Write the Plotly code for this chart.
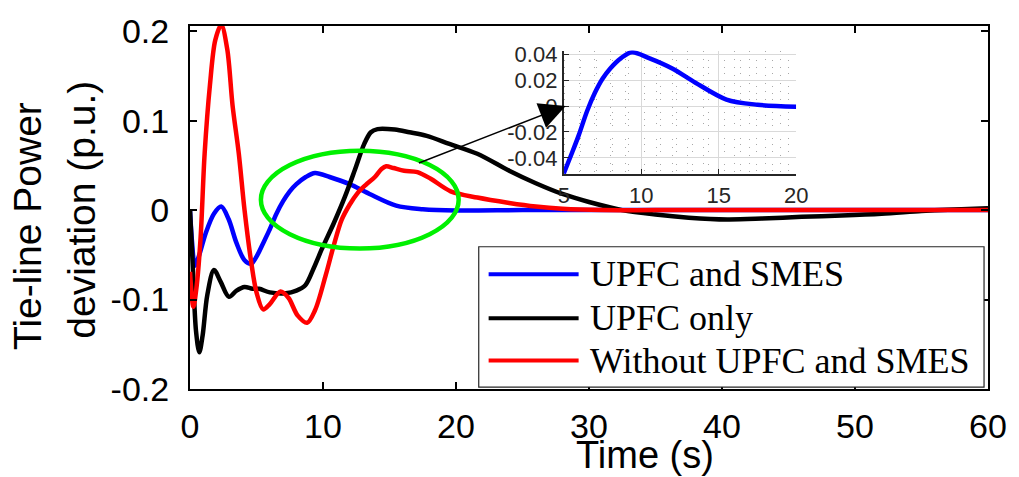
import plotly.graph_objects as go

# ---------------- data ----------------
t_blue = [0, 0.15, 0.37, 0.7, 1.2, 1.8, 2.35, 2.9, 3.5, 4.1, 4.6, 5.0, 5.5, 5.95, 6.5, 7.0, 7.5,
          8.0, 8.7, 9.4, 10.5, 12.0, 13.5, 15.5, 17.5, 20, 25, 30, 40, 50, 60]
v_blue = [0, -0.035, -0.062, -0.05, -0.025, -0.004, 0.004, -0.01, -0.037, -0.056, -0.060, -0.052,
          -0.037, -0.023, -0.004, 0.010, 0.021, 0.029, 0.037, 0.0415, 0.037, 0.029, 0.018, 0.005,
          0.001, -0.0005, 0, 0, 0, 0, 0]

t_black = [0, 0.2, 0.45, 0.7, 0.95, 1.3, 1.8, 2.3, 2.93, 3.5, 4.1, 4.7, 5.2, 6.0, 7.2, 8.0, 8.67,
           9.3, 9.9, 10.8, 11.65, 12.4, 13.1, 13.6, 14.1, 15.4, 16.5, 17.8, 19.5, 21.6, 24, 26,
           28, 30, 32.5, 35, 37.5, 40.4, 43, 46, 49, 52, 55, 57, 60]
v_black = [0, -0.06, -0.135, -0.159, -0.14, -0.095, -0.067, -0.08, -0.097, -0.09, -0.086, -0.088,
           -0.088, -0.092, -0.093, -0.09, -0.084, -0.065, -0.044, -0.015, 0.015, 0.045, 0.074,
           0.087, 0.0905, 0.09, 0.087, 0.083, 0.074, 0.063, 0.044, 0.030, 0.018, 0.009, 0.0,
           -0.005, -0.0085, -0.0105, -0.0095, -0.0075, -0.006, -0.004, -0.001, 0.0005, 0.002]

t_red = [0, 0.25, 0.5, 0.8, 1.1, 1.5, 1.9, 2.35, 2.8, 3.2, 3.67, 4.1, 4.6, 5.0, 5.5, 6.0, 6.8, 7.4,
         8.1, 8.8, 9.4, 10.2, 10.8, 11.4, 12.0, 12.6, 13.2, 13.9, 14.4, 14.75, 15.3, 16.1, 17.1,
         18.1, 19.6, 21.6, 24, 26, 28, 31, 35, 45, 60]
v_red = [-0.069, -0.108, -0.085, -0.03, 0.063, 0.14, 0.19, 0.207, 0.18, 0.117, 0.063, 0.0, -0.058,
         -0.092, -0.111, -0.105, -0.091, -0.098, -0.118, -0.126, -0.112, -0.073, -0.04, -0.011,
         0.006, 0.019, 0.028, 0.037, 0.046, 0.049, 0.047, 0.044, 0.0425, 0.035, 0.021, 0.014,
         0.008, 0.004, 0.0015, 0.0, 0.0, 0.0, 0.0]

series_names = ["UPFC and SMES", "UPFC only", "Without UPFC and SMES"]
series_colors = ["#0000FF", "#000000", "#FF0000"]

x_ticks = [0, 10, 20, 30, 40, 50, 60]
y_ticks = [-0.2, -0.1, 0, 0.1, 0.2]
y_ticktext = ["-0.2", "-0.1", "0", "0.1", "0.2"]
inset_xticks = [5, 10, 15, 20]
inset_yticks = [-0.04, -0.02, 0, 0.02, 0.04]
inset_yticktext = ["-0.04", "-0.02", "0", "0.02", "0.04"]

# ---------------- figure ----------------
fig = go.Figure()
for tt, vv, nm, col in [(t_blue, v_blue, series_names[0], series_colors[0]),
                        (t_black, v_black, series_names[1], series_colors[1]),
                        (t_red, v_red, series_names[2], series_colors[2])]:
    fig.add_trace(go.Scatter(x=tt, y=vv, mode="lines", name=nm, showlegend=False,
                             line=dict(color=col, width=4.5, shape="spline", smoothing=0.9),
                             xaxis="x", yaxis="y"))

# inset: blue between 5 and 20 s
ins_t = [a for a in t_blue if 5 <= a <= 20]
ins_v = [b for a, b in zip(t_blue, v_blue) if 5 <= a <= 20]
fig.add_trace(go.Scatter(x=ins_t, y=ins_v, mode="lines", showlegend=False,
                         line=dict(color="#0000FF", width=4.5, shape="spline", smoothing=0.9),
                         xaxis="x2", yaxis="y2"))

axis_font = dict(family="Liberation Sans, Arial", size=34, color="black")
inset_font = dict(family="Liberation Sans, Arial", size=22, color="#262626")
fig.update_layout(
    width=1019, height=477,
    margin=dict(l=190, r=22, t=19, b=88),
    paper_bgcolor="white", plot_bgcolor="white",
    showlegend=False,
    xaxis=dict(domain=[0, 1], range=[0, 60], tickvals=x_ticks, ticks="inside", ticklen=7,
               tickwidth=2, tickcolor="black", showline=True, linewidth=2, linecolor="black",
               mirror="ticks", showgrid=False, zeroline=False, tickfont=axis_font,
               ticklabelstandoff=6),
    yaxis=dict(domain=[0, 1], range=[-0.2, 0.2058], tickvals=y_ticks, ticktext=y_ticktext,
               ticks="inside", ticklen=7, tickwidth=2, tickcolor="black", showline=True,
               linewidth=2, linecolor="black", mirror="ticks", showgrid=False, zeroline=False,
               tickfont=axis_font, ticklabelstandoff=12),
    xaxis2=dict(domain=[0.4684, 0.7596], anchor="y2", range=[5, 20], tickvals=inset_xticks,
                ticks="inside", ticklen=5, tickcolor="#262626", showline=True, linewidth=2,
                linecolor="#262626", showgrid=True, gridcolor="#d9d9d9", gridwidth=1,
                zeroline=False, tickfont=inset_font,
                minor=dict(dtick=1, showgrid=True, gridcolor="#a8a8a8", griddash="1px,7px", gridwidth=1)),
    yaxis2=dict(domain=[0.5919, 0.9324], anchor="x2", range=[-0.0525, 0.0428],
                tickvals=inset_yticks, ticktext=inset_yticktext, ticks="inside", ticklen=5,
                tickcolor="#262626", showline=True, linewidth=2, linecolor="#262626",
                showgrid=True, gridcolor="#d9d9d9", gridwidth=1, zeroline=False,
                tickfont=inset_font,
                minor=dict(dtick=0.005, showgrid=True, gridcolor="#a8a8a8", griddash="1px,15px", gridwidth=1)),
)

# green ellipse
fig.add_shape(type="circle", xref="x", yref="y", x0=5.33, x1=20.2, y0=-0.0429, y1=0.0663,
              line=dict(color="#00F000", width=4.5), layer="above")

# arrow to inset
fig.add_annotation(x=28.25, y=0.1165, xref="x", yref="y", ax=17.1, ay=0.052, axref="x", ayref="y",
                   showarrow=True, arrowhead=2, arrowsize=3.5, arrowwidth=1.5, arrowcolor="black", text="")

# custom legend box (paper coords from pixel positions)
def px2paper(px, py):
    return (px - 190) / 807.0, (389 - py) / 370.0

lx0, ly0 = px2paper(482, 387)
lx1, ly1 = px2paper(993, 244)
fig.add_shape(type="rect", xref="paper", yref="paper", x0=lx0, y0=ly0, x1=lx1, y1=ly1,
              line=dict(color="#262626", width=1.2), fillcolor="white", layer="above")
for i, (nm, col) in enumerate(zip(series_names, series_colors)):
    rowy = [272, 317, 360][i]
    sx0, sy = px2paper(492, rowy)
    sx1, _ = px2paper(583, rowy)
    fig.add_shape(type="line", xref="paper", yref="paper", x0=sx0, x1=sx1, y0=sy, y1=sy,
                  line=dict(color=col, width=4), layer="above")
    tx, _ = px2paper(592, rowy)
    fig.add_annotation(x=tx, y=sy, xref="paper", yref="paper", text=nm, showarrow=False,
                       xanchor="left", yanchor="middle",
                       font=dict(family="Liberation Serif, Times New Roman", size=36, color="black"))

# axis titles
tx, ty = px2paper(650, 456)
fig.add_annotation(x=tx, y=ty, xref="paper", yref="paper", text="Time (s)", showarrow=False,
                   xanchor="center", yanchor="middle",
                   font=dict(family="Liberation Sans, Arial", size=38, color="black"))
tx, ty = px2paper(25, 223)
fig.add_annotation(x=tx, y=ty, xref="paper", yref="paper",
                   text="Tie-line Power", textangle=-90, showarrow=False,
                   xanchor="center", yanchor="middle",
                   font=dict(family="Liberation Sans, Arial", size=39, color="black"))
tx, ty = px2paper(80, 206)
fig.add_annotation(x=tx, y=ty, xref="paper", yref="paper",
                   text="deviation (p.u.)", textangle=-90, showarrow=False,
                   xanchor="center", yanchor="middle",
                   font=dict(family="Liberation Sans, Arial", size=39, color="black"))

fig.write_html("out.html")
